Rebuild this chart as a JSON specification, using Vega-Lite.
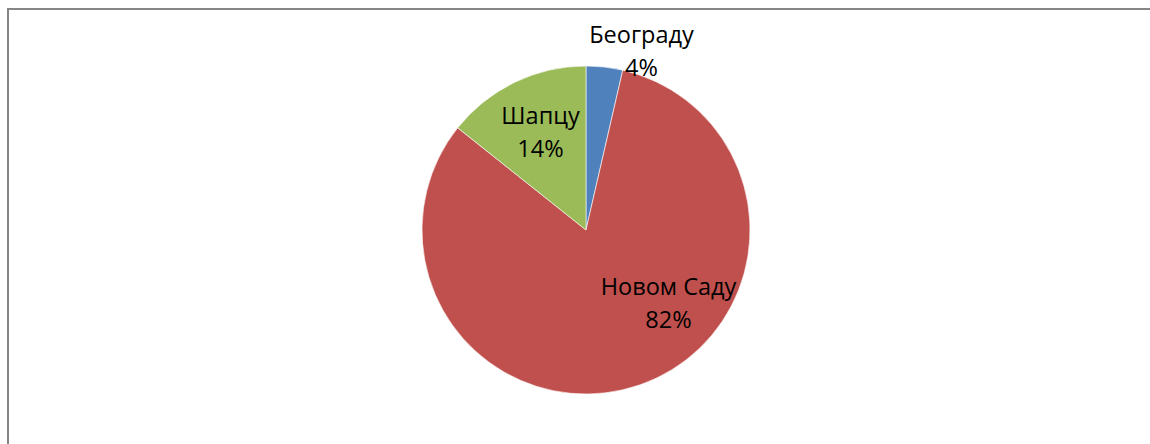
{
  "$schema": "https://vega.github.io/schema/vega-lite/v6.json",
  "width": 1156,
  "height": 442,
  "padding": {"left": 8, "top": 9, "right": 0, "bottom": 0},
  "autosize": {"type": "none"},
  "background": "#ffffff",
  "view": {"stroke": "#868686", "strokeWidth": 2},
  "datasets": {
    "slices": [
      {"city": "Београду", "share": 3.6, "order": 1},
      {"city": "Новом Саду", "share": 82.1, "order": 2},
      {"city": "Шапцу", "share": 14.3, "order": 3}
    ],
    "labels": [
      {"label": "Београду\n4%", "angle": 16.0, "dist": 201.3},
      {"label": "Новом Саду\n82%", "angle": 125.3, "dist": 101.1},
      {"label": "Шапцу\n14%", "angle": 338.0, "dist": 121.4}
    ]
  },
  "layer": [
    {
      "data": {"name": "slices"},
      "mark": {"type": "arc", "outerRadius": 164, "stroke": "#ffffff", "strokeWidth": 0.6},
      "encoding": {
        "theta": {"field": "share", "type": "quantitative", "stack": true},
        "order": {"field": "order", "type": "quantitative"},
        "color": {
          "field": "city",
          "type": "nominal",
          "scale": {"domain": ["Београду", "Новом Саду", "Шапцу"], "range": ["#4F81BD", "#C0504D", "#9BBB59"]},
          "legend": null
        }
      }
    },
    {
      "data": {"name": "labels"},
      "mark": {"type": "text", "font": "Open Sans", "fontSize": 23.5, "lineBreak": "\n", "lineHeight": 33, "align": "center", "baseline": "middle", "color": "#000000"},
      "encoding": {
        "theta": {"field": "angle", "type": "quantitative", "stack": null, "scale": {"type": "linear", "domain": [0, 360], "range": [0, 6.283185307]}},
        "radius": {"field": "dist", "type": "quantitative", "scale": {"type": "linear", "domain": [0, 250], "range": [0, 250], "zero": true}},
        "text": {"field": "label", "type": "nominal"}
      }
    }
  ],
  "resolve": {"scale": {"theta": "independent", "radius": "independent"}}
}
